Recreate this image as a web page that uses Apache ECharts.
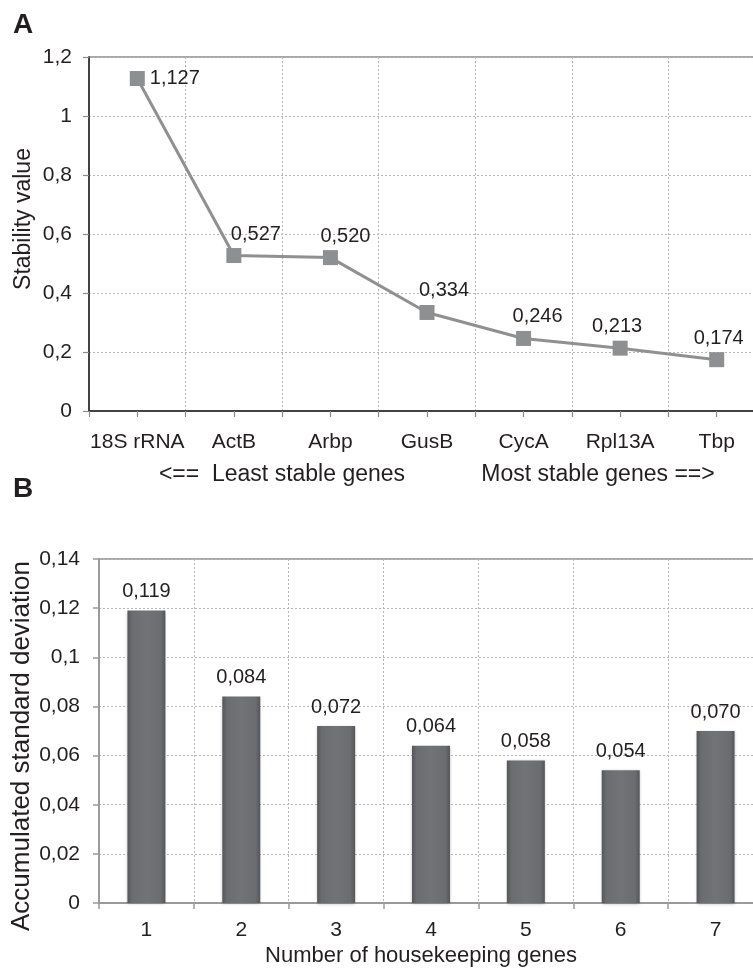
<!DOCTYPE html>
<html>
<head>
<meta charset="utf-8">
<script src="https://cdn.jsdelivr.net/npm/echarts@6/dist/echarts.min.js"></script>
<style>
html,body{margin:0;padding:0;background:#fff;overflow:hidden;}
#chart{width:753px;height:974px;}
</style>
</head>
<body>
<div id="chart"></div>
<script>
// ---- Data ----
var genes = ['18S rRNA', 'ActB', 'Arbp', 'GusB', 'CycA', 'Rpl13A', 'Tbp'];
var stability = [1.127, 0.527, 0.520, 0.334, 0.246, 0.213, 0.174];
var geneCounts = ['1', '2', '3', '4', '5', '6', '7'];
var accumSD = [0.119, 0.084, 0.072, 0.064, 0.058, 0.054, 0.070];
var yTicksA = [0, 0.2, 0.4, 0.6, 0.8, 1, 1.2];
var yTicksB = [0, 0.02, 0.04, 0.06, 0.08, 0.1, 0.12, 0.14];
// label nudges (style only), horizontal px per point
var labelNudgeA = [0, 22, 15, 17, 14, -3, 2];

var FONT = 'Liberation Sans, Arial, Helvetica, sans-serif';
var TXT = '#231f20';
function comma(v) { return String(+(+v).toFixed(4)).replace('.', ','); }
function comma3(v) { return (+v).toFixed(3).replace('.', ','); }

var chart = echarts.init(document.getElementById('chart'), null, {renderer: 'canvas'});

var halfCats = [];
genes.forEach(function (g) { halfCats.push(g + '_a', g + '_b'); });

var dotted = {show: true, lineStyle: {color: '#b5b5b5', type: [2, 2], width: 1}};

var option = {
  animation: false,
  textStyle: {fontFamily: FONT, color: TXT},
  grid: [
    {left: 89, top: 57, width: 676, height: 354, show: true, borderColor: '#8a8a8a', borderWidth: 1.5, backgroundColor: 'transparent', outerBoundsMode: 'none', containLabel: false},
    {left: 99, top: 559, width: 664, height: 344, show: true, borderColor: '#8f8f8f', borderWidth: 1.5, backgroundColor: 'transparent', outerBoundsMode: 'none', containLabel: false},
    {left: 89, top: 57, width: 676, height: 354, outerBoundsMode: 'none', containLabel: false}
  ],
  xAxis: [
    {
      type: 'category', gridIndex: 0, data: genes, boundaryGap: true,
      axisLine: {lineStyle: {color: '#231f20', width: 1.5}},
      axisTick: {show: false},
      axisLabel: {fontSize: 21, color: TXT, margin: 21, fontFamily: FONT, interval: 0, hideOverlap: false},
      splitLine: dotted
    },
    {
      type: 'category', gridIndex: 1, data: geneCounts, boundaryGap: true,
      axisLine: {lineStyle: {color: '#9a9a9a', width: 2}},
      axisTick: {show: true, length: 6, lineStyle: {color: '#9a9a9a', width: 1.5}},
      axisLabel: {fontSize: 21, color: TXT, margin: 17, fontFamily: FONT, interval: 0},
      splitLine: dotted
    },
    {
      type: 'category', gridIndex: 2, data: halfCats, boundaryGap: true,
      axisLine: {show: false},
      axisTick: {show: true, interval: 0, length: 6, lineStyle: {color: '#8a8a8a', width: 1.2}},
      axisLabel: {show: false},
      splitLine: {show: false}
    }
  ],
  yAxis: [
    {
      type: 'value', gridIndex: 0, min: 0, max: 1.2, interval: 0.2,
      axisLine: {show: true, lineStyle: {color: '#231f20', width: 1.5}},
      axisTick: {show: true, length: 6, lineStyle: {color: '#8a8a8a', width: 1.2}},
      axisLabel: {fontSize: 21, color: TXT, margin: 17, fontFamily: FONT, formatter: comma},
      splitLine: dotted
    },
    {
      type: 'value', gridIndex: 1, min: 0, max: 0.14, interval: 0.02,
      axisLine: {show: true, lineStyle: {color: '#9a9a9a', width: 2}},
      axisTick: {show: true, length: 6, lineStyle: {color: '#9a9a9a', width: 1.5}},
      axisLabel: {fontSize: 21, color: TXT, margin: 19, fontFamily: FONT, formatter: comma},
      splitLine: dotted
    },
    {
      type: 'value', gridIndex: 2, min: 0, max: 1, show: false
    }
  ],
  series: [
    {
      type: 'line', xAxisIndex: 0, yAxisIndex: 0,
      data: stability.map(function (v, i) {
        return i === 0
          ? {value: v, label: {position: 'right', distance: 5, offset: [0, 0]}}
          : {value: v, label: {offset: [labelNudgeA[i], 0]}};
      }),
      symbol: 'rect', symbolSize: 15,
      lineStyle: {color: '#909092', width: 3},
      itemStyle: {color: '#8e8f91'},
      label: {show: true, position: 'top', distance: 4, fontSize: 20, color: TXT, fontFamily: FONT, formatter: function (p) { return comma3(p.value); }},
      z: 5
    },
    {
      type: 'bar', xAxisIndex: 1, yAxisIndex: 1,
      data: accumSD,
      barWidth: 38,
      itemStyle: {
        color: new echarts.graphic.LinearGradient(0, 0, 1, 0, [
          {offset: 0, color: '#55565a'},
          {offset: 0.12, color: '#6b6c70'},
          {offset: 0.5, color: '#727377'},
          {offset: 0.88, color: '#6b6c70'},
          {offset: 1, color: '#55565a'}
        ]),
        shadowColor: 'rgba(0,0,0,0.25)', shadowBlur: 3, shadowOffsetY: 1
      },
      label: {show: true, position: 'top', distance: 9, fontSize: 20, color: TXT, fontFamily: FONT, formatter: function (p) { return comma3(p.value); }}
    },
    {
      type: 'line', xAxisIndex: 2, yAxisIndex: 2, data: [], silent: true
    }
  ],
  graphic: [
    {type: 'text', left: 13, top: 11, style: {text: 'A', font: 'bold 28px ' + FONT, fill: TXT}},
    {type: 'text', left: 13, top: 475, style: {text: 'B', font: 'bold 28px ' + FONT, fill: TXT}},
    {type: 'text', x: 24, y: 219, rotation: Math.PI / 2, style: {text: 'Stability value', font: '23px ' + FONT, fill: TXT, textAlign: 'center', textVerticalAlign: 'middle'}},
    {type: 'text', x: 22, y: 746, rotation: Math.PI / 2, style: {text: 'Accumulated standard deviation', font: '26px ' + FONT, fill: TXT, textAlign: 'center', textVerticalAlign: 'middle'}},
    {type: 'text', x: 282, y: 475, style: {text: '<==  Least stable genes', font: '23px ' + FONT, fill: TXT, textAlign: 'center', textVerticalAlign: 'middle'}},
    {type: 'text', x: 598, y: 475, style: {text: 'Most stable genes ==>', font: '23px ' + FONT, fill: TXT, textAlign: 'center', textVerticalAlign: 'middle'}},
    {type: 'text', x: 421, y: 956, style: {text: 'Number of housekeeping genes', font: '22px ' + FONT, fill: TXT, textAlign: 'center', textVerticalAlign: 'middle'}}
  ]
};
chart.setOption(option);
</script>
</body>
</html>
